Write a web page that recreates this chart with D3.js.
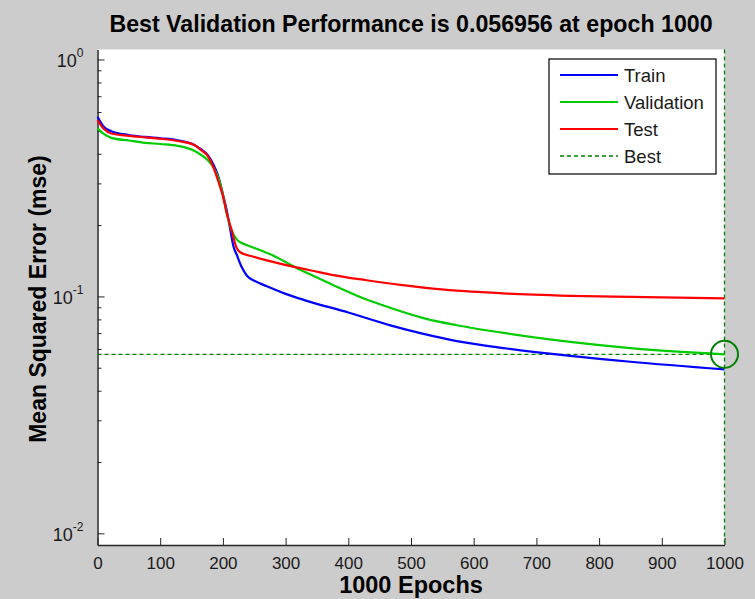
<!DOCTYPE html>
<html>
<head>
<meta charset="utf-8">
<script src="https://cdn.jsdelivr.net/npm/d3@7"></script>
<style>
  body { margin: 0; background: #cccccc; }
  svg { display: block; font-family: "Liberation Sans", Arial, sans-serif; }
  .axis path, .axis line { stroke: #262626; }
  .axis text { fill: #1a1a1a; font-size: 17px; }
</style>
</head>
<body>
<svg id="chart" width="755" height="599"></svg>
<script>
// training record
var trainEpochs = [0, 10, 22, 50, 76, 100, 128, 155, 165, 176, 185, 192, 200, 206, 212, 217, 222, 230, 238, 250, 270, 300, 330, 400, 467, 520, 573, 653, 754, 850, 1000];
var trainPerf   = [0.573, 0.52, 0.498, 0.48, 0.471, 0.465, 0.456, 0.435, 0.418, 0.395, 0.36, 0.325, 0.27, 0.231, 0.19, 0.162, 0.15, 0.133, 0.1225, 0.1165, 0.1105, 0.1025, 0.0965, 0.0855, 0.0755, 0.0695, 0.0648, 0.0603, 0.0561, 0.053, 0.0492];

var valEpochs = [0, 10, 22, 50, 76, 100, 128, 155, 165, 176, 185, 192, 200, 206, 214, 222, 230, 240, 259, 280, 318, 339, 376, 429, 467, 520, 573, 653, 754, 850, 1000];
var valPerf   = [0.512, 0.485, 0.467, 0.455, 0.445, 0.44, 0.432, 0.411, 0.396, 0.376, 0.35, 0.32, 0.27, 0.225, 0.19, 0.174, 0.168, 0.164, 0.157, 0.149, 0.1316, 0.124, 0.1116, 0.097, 0.0895, 0.081, 0.0756, 0.0698, 0.0643, 0.0605, 0.056956];

var testEpochs = [0, 10, 22, 50, 76, 100, 128, 155, 165, 176, 185, 192, 200, 206, 214, 222, 227, 249, 270, 323, 339, 376, 429, 483, 520, 573, 620, 653, 754, 850, 1000];
var testPerf   = [0.555, 0.51, 0.487, 0.476, 0.469, 0.463, 0.453, 0.435, 0.415, 0.391, 0.35, 0.31, 0.265, 0.225, 0.19, 0.16, 0.154, 0.147, 0.142, 0.1316, 0.129, 0.123, 0.117, 0.1118, 0.109, 0.1058, 0.104, 0.1028, 0.1006, 0.0995, 0.0981];

var bestEpoch = 1000;
var bestPerf = 0.056956;

var xTicks = [0, 100, 200, 300, 400, 500, 600, 700, 800, 900, 1000];
var yMajor = [0.01, 0.1, 1];
var yTickExp = ['-2', '-1', '0'];

var legendNames = ['Train', 'Validation', 'Test', 'Best'];
var lineColors = ['#0000ff', '#00cc00', '#ff0000', '#008000'];

var svg = d3.select('#chart');
var pLeft = 97.5, pRight = 724.5, pTop = 49.5, pBottom = 545;

var x = d3.scaleLinear().domain([0, 1000]).range([pLeft, pRight]);
var y = d3.scaleLog().domain([0.00893, 1.102]).range([pBottom, pTop]);

// plot area
svg.append('rect')
   .attr('x', pLeft).attr('y', pTop)
   .attr('width', pRight - pLeft).attr('height', pBottom - pTop)
   .attr('fill', '#ffffff');

// title
svg.append('text')
   .attr('x', (pLeft + pRight) / 2).attr('y', 32)
   .attr('text-anchor', 'middle')
   .style('font-size', '23.2px').style('font-weight', 'bold')
   .attr('fill', '#000')
   .text('Best Validation Performance is 0.056956 at epoch ' + bestEpoch);

// minor y ticks
var yMinor = [];
[0.01, 0.1].forEach(function(d) {
	for (var k = 2; k <= 9; k++) yMinor.push(d * k);
});

svg.append('g').attr('class', 'axis')
   .attr('transform', 'translate(' + pLeft + ',0)')
   .call(d3.axisLeft(y).tickValues(yMinor).tickSize(-4).tickFormat(''))
   .select('.domain').remove();

var yAxis = svg.append('g').attr('class', 'axis')
   .attr('transform', 'translate(' + pLeft + ',0)')
   .call(d3.axisLeft(y).tickValues(yMajor).tickSize(-7).tickSizeOuter(0).tickFormat(''));
yAxis.select('.domain').attr('stroke-width', 1.5);

yAxis.selectAll('.tick').each(function(d, i) {
	var t = d3.select(this).append('text')
	   .attr('x', -14).attr('y', 7)
	   .attr('text-anchor', 'end')
	   .style('font-size', '18px');
	t.append('tspan').text('10');
	t.append('tspan').attr('dy', -10).style('font-size', '12px').text(yTickExp[i]);
});

var xAxis = svg.append('g').attr('class', 'axis')
   .attr('transform', 'translate(0,' + pBottom + ')')
   .call(d3.axisBottom(x).tickValues(xTicks).tickSize(-7).tickSizeOuter(0)
         .tickPadding(12).tickFormat(d3.format('d')));
xAxis.select('.domain').attr('stroke-width', 1.5);

// axis labels
svg.append('text')
   .attr('x', (pLeft + pRight) / 2).attr('y', 593)
   .attr('text-anchor', 'middle')
   .style('font-size', '23.5px').style('font-weight', 'bold')
   .text('1000 Epochs');

svg.append('text')
   .attr('transform', 'translate(46,299) rotate(-90)')
   .attr('text-anchor', 'middle')
   .style('font-size', '23px').style('font-weight', 'bold')
   .text('Mean Squared Error  (mse)');

// best markers
svg.append('line')
   .attr('x1', x(0)).attr('x2', x(bestEpoch))
   .attr('y1', y(bestPerf)).attr('y2', y(bestPerf))
   .attr('stroke', lineColors[3]).attr('stroke-width', 1.3)
   .attr('stroke-dasharray', '4,3');
svg.append('line')
   .attr('x1', x(bestEpoch)).attr('x2', x(bestEpoch))
   .attr('y1', pTop).attr('y2', pBottom)
   .attr('stroke', lineColors[3]).attr('stroke-width', 1.3)
   .attr('stroke-dasharray', '4,3');

// curves
var line = d3.line()
	.x(function(d) { return x(d[0]); })
	.y(function(d) { return y(d[1]); })
	.curve(d3.curveMonotoneX);

var series = [
	d3.zip(trainEpochs, trainPerf),
	d3.zip(valEpochs, valPerf),
	d3.zip(testEpochs, testPerf)
];

for (var i = 0; i < series.length; i++) {
	svg.append('path')
	   .datum(series[i])
	   .attr('d', line)
	   .attr('fill', 'none')
	   .attr('stroke', lineColors[i])
	   .attr('stroke-width', 2.2);
}

svg.append('circle')
   .attr('cx', x(bestEpoch)).attr('cy', y(bestPerf))
   .attr('r', 13.5)
   .attr('fill', 'none')
   .attr('stroke', lineColors[3]).attr('stroke-width', 2);

// legend
var legend = svg.append('g').attr('transform', 'translate(549,59)');
legend.append('rect')
      .attr('width', 167).attr('height', 115)
      .attr('fill', '#fff').attr('stroke', '#000').attr('stroke-width', 1.2);

for (var j = 0; j < legendNames.length; j++) {
	var ly = 16 + j * 27;
	legend.append('line')
	      .attr('x1', 11).attr('x2', 69)
	      .attr('y1', ly).attr('y2', ly)
	      .attr('stroke', lineColors[j])
	      .attr('stroke-width', j == 3 ? 1.3 : 2.2)
	      .attr('stroke-dasharray', j == 3 ? '4,3' : null);
	legend.append('text')
	      .attr('x', 75).attr('y', ly + 6.5)
	      .style('font-size', '18.5px')
	      .attr('fill', '#1a1a1a')
	      .text(legendNames[j]);
}
</script>
</body>
</html>
